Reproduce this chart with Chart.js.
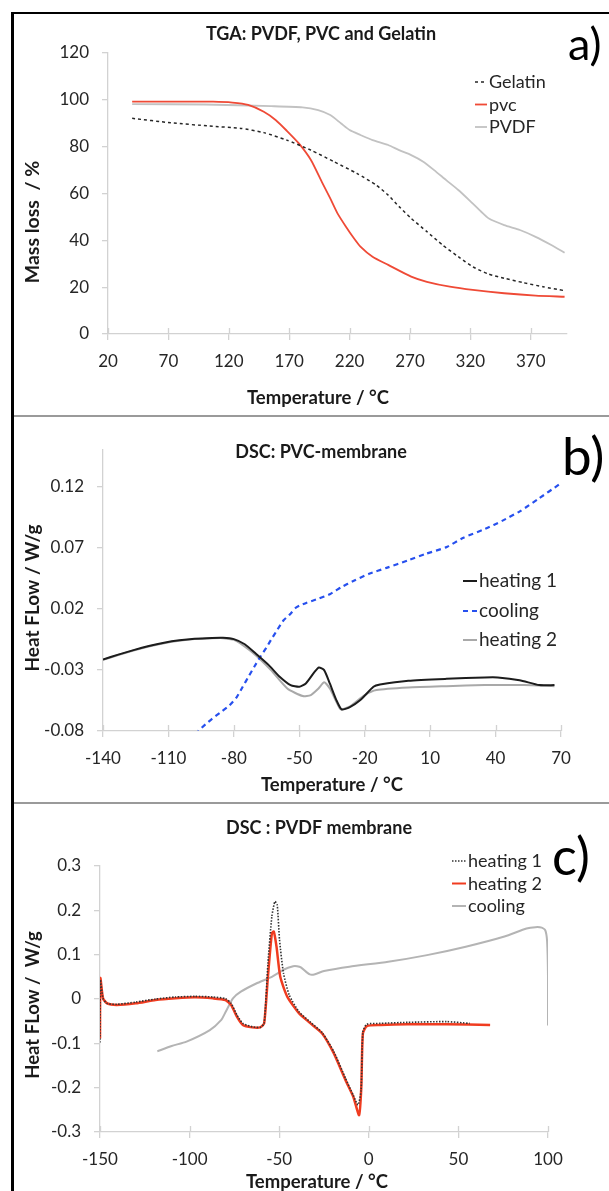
<!DOCTYPE html>
<html>
<head>
<meta charset="utf-8">
<script src="https://cdn.jsdelivr.net/npm/chart.js@4.4.1/dist/chart.umd.min.js"></script>
<style>
  body { margin: 0; background: #fff; }
  #page { position: relative; width: 609px; height: 1191px; overflow: hidden; background: #fff; }
  canvas { position: absolute; left: 0; }
  .rule { position: absolute; }
</style>
</head>
<body>
<div id="page">
  <canvas id="tga" width="609" height="401" style="top:14px"></canvas>
  <canvas id="dscPvc" width="609" height="386" style="top:417px"></canvas>
  <canvas id="dscPvdf" width="609" height="387" style="top:804px"></canvas>
  <div class="rule" style="left:11px;top:12px;width:3px;height:1179px;background:#000"></div>
  <div class="rule" style="left:11px;top:12px;width:598px;height:2px;background:#000"></div>
  <div class="rule" style="left:14px;top:415px;width:595px;height:2px;background:#9a9a9a"></div>
  <div class="rule" style="left:14px;top:802px;width:595px;height:2px;background:#9a9a9a"></div>
</div>
<script>
// ---- a) TGA ----
const tgaTicksX = [20, 70, 120, 170, 220, 270, 320, 370];
const tgaTicksY = [0, 20, 40, 60, 80, 100, 120];

const gelatinTemp = [40, 72, 104, 130, 149, 168, 188, 207, 226, 242, 252, 261, 271, 284, 297, 310, 322, 335, 348, 364, 380, 398];
const gelatinMass = [92.1, 90.2, 88.8, 87.8, 86.0, 82.8, 78.5, 73.6, 68.6, 63.6, 59.3, 54.4, 49.4, 43.7, 38.0, 33.0, 28.7, 25.6, 23.8, 21.9, 20.2, 18.5];

const pvcTemp = [40, 80, 107, 123, 136, 149, 159, 168, 178, 188, 197, 204, 210, 217, 223, 229, 239, 252, 271, 284, 303, 322, 348, 374, 398];
const pvcMass = [99.2, 99.2, 99.2, 98.8, 97.8, 94.9, 91.3, 86.8, 81.4, 74.3, 65.0, 57.9, 51.5, 45.8, 41.3, 37.3, 33.0, 29.5, 24.5, 22.3, 20.2, 18.8, 17.4, 16.4, 15.9];

const pvdfTemp = [40, 100, 155, 181, 194, 204, 213, 220, 229, 239, 252, 261, 271, 281, 290, 300, 310, 319, 329, 335, 348, 361, 374, 387, 398];
const pvdfMass = [98.2, 98.0, 97.3, 96.8, 95.6, 93.5, 89.9, 87.1, 85.0, 82.8, 80.7, 78.5, 76.4, 73.6, 70.0, 65.7, 61.5, 57.2, 52.2, 49.4, 46.5, 44.4, 41.5, 38.0, 34.7];

// ---- b) DSC PVC membrane ----
const pvcDscTicksX = [-140, -110, -80, -50, -20, 10, 40, 70];
const pvcDscTicksY = [-0.08, -0.03, 0.02, 0.07, 0.12];

const pvcHeat1Temp = [-140, -133, -126, -119, -112, -105, -98, -90, -85, -80, -75, -70, -64, -59, -54, -50, -47, -43, -41, -38.6, -36, -33, -30.6, -27, -22, -16, -13, 0, 17.5, 35, 41, 51, 60, 67];
const pvcHeat1Flow = [-0.0215, -0.0175, -0.0138, -0.0105, -0.0078, -0.0058, -0.0045, -0.0038, -0.0037, -0.0048, -0.009, -0.0166, -0.0261, -0.0356, -0.0424, -0.0438, -0.0411, -0.0316, -0.028, -0.0302, -0.0411, -0.0547, -0.0623, -0.0607, -0.0547, -0.0438, -0.042, -0.0389, -0.0373, -0.0362, -0.0362, -0.0384, -0.0424, -0.0424];

const pvcCoolTemp = [69, 60, 51.3, 43, 35.3, 25, 17.5, 8, -0.3, -10, -18, -25, -30.6, -36, -41.2, -46.6, -50, -51.9, -54, -57.2, -60, -62.6, -65, -67.9, -70.5, -73.3, -76, -78.6, -82, -85.7, -90, -93, -96.4];
const pvcCoolFlow = [0.1216, 0.1105, 0.1, 0.092, 0.0855, 0.078, 0.0705, 0.065, 0.0596, 0.0535, 0.0487, 0.043, 0.0378, 0.032, 0.0283, 0.025, 0.0225, 0.0205, 0.016, 0.0106, 0.003, -0.0043, -0.0115, -0.0193, -0.027, -0.0356, -0.044, -0.052, -0.059, -0.0642, -0.070, -0.0745, -0.08];

const pvcHeat2Temp = [-140, -133, -126, -119, -112, -105, -98, -90, -85, -80, -77, -70, -63, -55.5, -48.4, -44.7, -41.2, -38.6, -36, -33, -31, -27, -20, -14.6, 0, 17.5, 35, 53, 67];
const pvcHeat2Flow = [-0.0218, -0.0178, -0.0141, -0.0108, -0.0081, -0.0061, -0.0048, -0.0041, -0.0040, -0.0054, -0.0084, -0.018, -0.0302, -0.0452, -0.0514, -0.0506, -0.0452, -0.0402, -0.0452, -0.056, -0.0623, -0.0601, -0.0506, -0.0465, -0.0444, -0.0433, -0.0424, -0.0424, -0.0433];

// ---- c) DSC PVDF membrane ----
const pvdfDscTicksX = [-150, -100, -50, 0, 50, 100];
const pvdfDscTicksY = [-0.3, -0.2, -0.1, 0, 0.1, 0.2, 0.3];

const pvdfHeat1Temp = [-150, -149.8, -148.3, -146, -140.7, -130, -119, -108, -97, -87, -80, -76.8, -73.6, -70.3, -65, -60.6, -58.4, -56.3, -54.1, -52.4, -51.1, -49.8, -47.6, -44.4, -39, -32.5, -26, -19.5, -13, -8.7, -6, -4.3, -3.3, -1.1, 6.5, 21.6, 43.3, 56.3];
const pvdfHeat1Flow = [-0.098, 0.043, 0.0015, -0.010, -0.012, -0.007, 0.000, 0.0045, 0.006, 0.0045, 0.0008, -0.010, -0.036, -0.055, -0.0625, -0.064, -0.055, 0.080, 0.186, 0.220, 0.212, 0.133, 0.058, 0.009, -0.0286, -0.0527, -0.076, -0.119, -0.179, -0.217, -0.239, -0.206, -0.074, -0.057, -0.055, -0.0527, -0.051, -0.055];

const pvdfHeat2Temp = [-150, -149.8, -148.3, -146, -140.7, -130, -119, -108, -97, -87, -80, -76.8, -73.6, -70.3, -65, -60.6, -58.4, -56.3, -54.1, -53, -51.5, -49.4, -45.5, -39, -32.5, -26, -19.5, -13, -8.7, -5.4, -4.2, -3.3, -1.1, 6.5, 21.6, 43.3, 67.7];
const pvdfHeat2Flow = [-0.089, 0.047, 0.0015, -0.010, -0.0136, -0.0098, -0.0023, 0.0015, 0.0038, 0.0015, -0.0023, -0.0136, -0.040, -0.0587, -0.064, -0.064, -0.055, 0.050, 0.148, 0.152, 0.118, 0.050, 0.0053, -0.032, -0.055, -0.0776, -0.1227, -0.183, -0.220, -0.262, -0.200, -0.0776, -0.061, -0.0587, -0.057, -0.057, -0.0587];

const pvdfCoolTemp = [100, 100, 99.5, 98.5, 96.5, 93, 88, 75.7, 54.1, 32.5, 10.8, -10.8, -25, -30, -32.5, -34.6, -37.9, -40, -42.2, -47.6, -54.1, -62.8, -71.4, -75.8, -80, -82.3, -88.7, -101.7, -110, -118];
const pvdfCoolFlow = [-0.06, 0.05, 0.13, 0.155, 0.161, 0.162, 0.159, 0.141, 0.118, 0.099, 0.084, 0.073, 0.063, 0.056, 0.055, 0.06, 0.0715, 0.074, 0.074, 0.066, 0.05, 0.035, 0.0166, 0.0015, -0.03, -0.047, -0.07, -0.096, -0.106, -0.118];

const axisGrey = '#d2d2d2';
const FONT = 'Lato, "Open Sans", sans-serif';

function pts(xs, ys) {
    return xs.map((x, i) => ({ x: x, y: ys[i] }));
}

function line(label, xs, ys, color, width, dash) {
    return {
        label: label,
        data: pts(xs, ys),
        borderColor: color,
        backgroundColor: color,
        borderWidth: width,
        borderDash: dash || [],
        pointRadius: 0,
        showLine: true,
        tension: 0.2
    };
}

// titles, panel letter, legend and the inner half of the x tick marks
const decor = {
    id: 'decor',
    afterDraw(chart, args, o) {
        const ctx = chart.ctx;
        const area = chart.chartArea;
        const xs = chart.scales.x;
        ctx.save();

        ctx.strokeStyle = axisGrey;
        ctx.lineWidth = 1.3;
        xs.ticks.forEach(t => {
            const px = Math.round(xs.getPixelForValue(t.value)) + 0.5;
            ctx.beginPath();
            ctx.moveTo(px, area.bottom);
            ctx.lineTo(px, area.bottom - 6);
            ctx.stroke();
        });

        ctx.fillStyle = '#1a1a1a';
        ctx.textAlign = 'center';
        ctx.textBaseline = 'alphabetic';
        ctx.font = 'bold 18px ' + FONT;
        ctx.fillText(o.title, o.titleAt[0], o.titleAt[1]);
        ctx.font = 'bold 18.5px ' + FONT;
        ctx.fillText(o.xTitle, o.xTitleAt[0], o.xTitleAt[1]);
        ctx.save();
        ctx.translate(o.yTitleAt[0], o.yTitleAt[1]);
        ctx.rotate(-Math.PI / 2);
        ctx.font = 'bold ' + o.yTitleSize + 'px ' + FONT;
        ctx.fillText(o.yTitle, 0, 0);
        ctx.restore();

        ctx.textAlign = 'left';
        ctx.fillStyle = '#000';
        ctx.font = o.letterSize + 'px ' + FONT;
        ctx.fillText(o.letter, o.letterAt[0], o.letterAt[1]);

        // legend rows, one per dataset
        ctx.font = o.legendSize + 'px ' + FONT;
        ctx.fillStyle = '#262626';
        chart.data.datasets.forEach((ds, i) => {
            const y = o.legendY[i];
            ctx.save();
            ctx.strokeStyle = ds.borderColor;
            ctx.lineWidth = Math.min(ds.borderWidth, 2);
            ctx.setLineDash(ds.borderDash);
            ctx.beginPath();
            ctx.moveTo(o.legendX, y - 6);
            ctx.lineTo(o.legendX + o.legendLen, y - 6);
            ctx.stroke();
            ctx.restore();
            ctx.fillText(ds.label, o.legendX + o.legendLen + 2, y);
        });
        ctx.restore();
    }
};

function axis(min, max, ticks, fmt, fitSize, isY) {
    return {
        type: 'linear',
        min: min,
        max: max,
        afterBuildTicks: s => { s.ticks = ticks.map(v => ({ value: v })); },
        afterFit: s => { if (isY) s.width = fitSize; else s.height = fitSize; },
        grid: { drawOnChartArea: false, tickLength: 6, color: axisGrey, lineWidth: 1.3 },
        border: { color: axisGrey, width: 1.3 },
        ticks: {
            callback: fmt,
            color: '#262626',
            padding: isY ? 13 : 11,
            maxRotation: 0,
            autoSkip: false,
            font: { family: FONT, size: 17 }
        }
    };
}

function makeChart(id, datasets, scales, padding, decorOpts) {
    return new Chart(document.getElementById(id), {
        type: 'scatter',
        data: { datasets: datasets },
        options: {
            responsive: false,
            animation: false,
            layout: { padding: padding },
            scales: scales,
            plugins: { legend: { display: false }, tooltip: { enabled: false }, decor: decorOpts }
        },
        plugins: [decor]
    });
}

makeChart('tga', [
    line('Gelatin', gelatinTemp, gelatinMass, '#262626', 1.5, [3, 3]),
    line('pvc', pvcTemp, pvcMass, '#ef4a36', 1.8),
    line('PVDF', pvdfTemp, pvdfMass, '#c2c2c2', 1.8)
], {
    x: axis(20, 400, tgaTicksX, v => String(v), 81, false),
    y: axis(0, 120, tgaTicksY, v => String(v), 108, true)
}, { left: 0, right: 42, top: 39, bottom: 0 }, {
    title: 'TGA: PVDF, PVC and Gelatin', titleAt: [321, 26],
    xTitle: 'Temperature / °C', xTitleAt: [318, 390],
    yTitle: 'Mass loss  / %', yTitleAt: [39, 208], yTitleSize: 19.5,
    letter: 'a)', letterAt: [568, 46], letterSize: 45,
    legendX: 475, legendLen: 12, legendY: [74, 96.5, 119], legendSize: 18
});

makeChart('dscPvc', [
    line('heating 1', pvcHeat1Temp, pvcHeat1Flow, '#1c1c1c', 2),
    line('cooling', pvcCoolTemp, pvcCoolFlow, '#2750ee', 2.2, [5, 4]),
    line('heating 2', pvcHeat2Temp, pvcHeat2Flow, '#a9a9a9', 2)
], {
    x: axis(-140, 70, pvcDscTicksX, v => String(v), 72, false),
    y: axis(-0.08, 0.15, pvcDscTicksY, v => v.toFixed(2), 103, true)
}, { left: 0, right: 48, top: 33, bottom: 0 }, {
    title: 'DSC: PVC-membrane', titleAt: [321, 41],
    xTitle: 'Temperature / °C', xTitleAt: [332, 374],
    yTitle: 'Heat FLow / W/g', yTitleAt: [39, 181], yTitleSize: 19,
    letter: 'b)', letterAt: [562, 58], letterSize: 53,
    legendX: 463, legendLen: 14, legendY: [170, 200, 229], legendSize: 19
});

makeChart('dscPvdf', [
    line('heating 1', pvdfHeat1Temp, pvdfHeat1Flow, '#333333', 1.6, [1.5, 1.5]),
    line('heating 2', pvdfHeat2Temp, pvdfHeat2Flow, '#f03c20', 2.5),
    line('cooling', pvdfCoolTemp, pvdfCoolFlow, '#b4b4b4', 2)
], {
    x: axis(-150, 100, pvdfDscTicksX, v => String(v), 59, false),
    y: axis(-0.3, 0.3, pvdfDscTicksY, v => (Math.abs(v) < 1e-9 ? '0' : v.toFixed(1)), 100, true)
}, { left: 0, right: 61, top: 62, bottom: 0 }, {
    title: 'DSC : PVDF membrane', titleAt: [319, 30],
    xTitle: 'Temperature / °C', xTitleAt: [317, 384],
    yTitle: 'Heat FLow /  W/g', yTitleAt: [39, 201], yTitleSize: 18.5,
    letter: 'c)', letterAt: [552, 71], letterSize: 52,
    legendX: 452, legendLen: 14, legendY: [63, 85.5, 108], legendSize: 18
});
</script>
</body>
</html>
